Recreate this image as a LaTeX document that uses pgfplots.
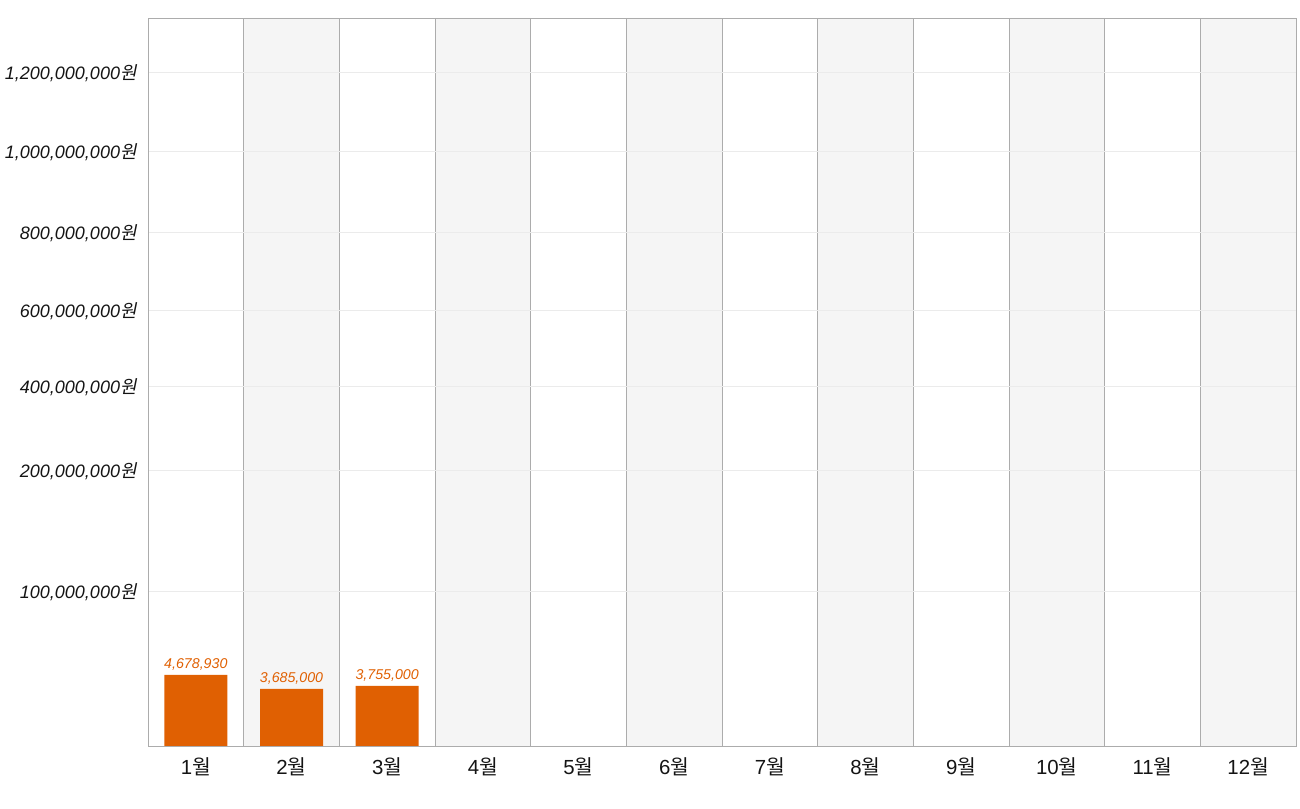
\documentclass[border=0pt]{standalone}
\usepackage{fontspec}
\setmainfont{Liberation Sans}
\newfontfamily\kr{Noto Sans CJK KR}[AutoFakeSlant=0.2]
\usepackage{pgfplots}
\usepackage{pgfplotstable}
\pgfplotsset{compat=1.18}
\definecolor{barorange}{RGB}{224,96,2}
\definecolor{bandgray}{RGB}{245,245,245}
\definecolor{linegray}{RGB}{172,172,172}
\definecolor{gridgray}{RGB}{235,235,235}
\definecolor{txt}{RGB}{20,20,20}
\newcommand\won{{\kr 원}}
\newcommand\wol{{\kr 월}}
% month index, amount (KRW), label
\pgfplotstableread{
x v lab
0 4678930 4,678,930
1 3685000 3,685,000
2 3755000 3,755,000
}\sales
\begin{document}
\begin{tikzpicture}
\begin{axis}[
  set layers,
  at={(0,0)}, anchor=south west,
  scale only axis, width=574pt, height=364pt,
  xmin=-0.5, xmax=11.5, ymin=0, ymax=728,
  axis line style={linegray},
  major tick length=0pt, minor tick length=0pt,
  xtick={0,...,11},
  xticklabels={1\wol,2\wol,3\wol,4\wol,5\wol,6\wol,7\wol,8\wol,9\wol,10\wol,11\wol,12\wol},
  minor xtick={0.5,1.5,...,10.5},
  xminorgrids, minor grid style={linegray},
  ytick={155,276,360,436,514,595,674},
  yticklabels={{100,000,000\won},{200,000,000\won},{400,000,000\won},{600,000,000\won},{800,000,000\won},{1,000,000,000\won},{1,200,000,000\won}},
  ymajorgrids, major grid style={gridgray},
  xticklabel style={font=\fontsize{10.2}{12}\selectfont, text=txt, anchor=base, inner sep=0pt, yshift=-14.5pt},
  yticklabel style={font=\fontsize{9}{12}\selectfont\itshape, text=txt, anchor=base east, inner sep=0pt, xshift=-5.5pt, yshift=-4pt},
]
\addplot[ybar interval, fill=bandgray, draw=none, on layer=axis background] coordinates {
 (0.5,728) (1.5,0) (2.5,728) (3.5,0) (4.5,728) (5.5,0) (6.5,728) (7.5,0) (8.5,728) (9.5,0) (10.5,728) (11.5,728)};
\addplot[ybar, bar width=31.5pt, fill=barorange, draw=none,
  point meta=explicit symbolic,
  nodes near coords,
  nodes near coords style={font=\fontsize{7.1}{8}\selectfont\itshape, text=barorange, anchor=base, inner sep=0pt, yshift=3pt}]
  table[x=x, meta=lab,
    % piecewise-linear value axis of the original chart (amounts in millions -> axis units)
    y expr={ifthenelse(\thisrow{v}/1000000<3.685, \thisrow{v}/1000000*57/3.685,
            ifthenelse(\thisrow{v}/1000000<3.755, 57+(\thisrow{v}/1000000-3.685)*3/0.07,
            ifthenelse(\thisrow{v}/1000000<4.679, 60+(\thisrow{v}/1000000-3.755)*11/0.924,
            ifthenelse(\thisrow{v}/1000000<100, 71+(\thisrow{v}/1000000-4.679)*84/95.321,
            ifthenelse(\thisrow{v}/1000000<200, 155+(\thisrow{v}/1000000-100)*1.21,
            ifthenelse(\thisrow{v}/1000000<400, 276+(\thisrow{v}/1000000-200)*0.42,
            ifthenelse(\thisrow{v}/1000000<600, 360+(\thisrow{v}/1000000-400)*0.38,
            ifthenelse(\thisrow{v}/1000000<800, 436+(\thisrow{v}/1000000-600)*0.39,
            ifthenelse(\thisrow{v}/1000000<1000, 514+(\thisrow{v}/1000000-800)*0.405,
            595+(\thisrow{v}/1000000-1000)*0.395)))))))))}] {\sales};
\end{axis}
\path (-74pt,-31pt) rectangle (576pt,373pt);
\end{tikzpicture}
\end{document}
